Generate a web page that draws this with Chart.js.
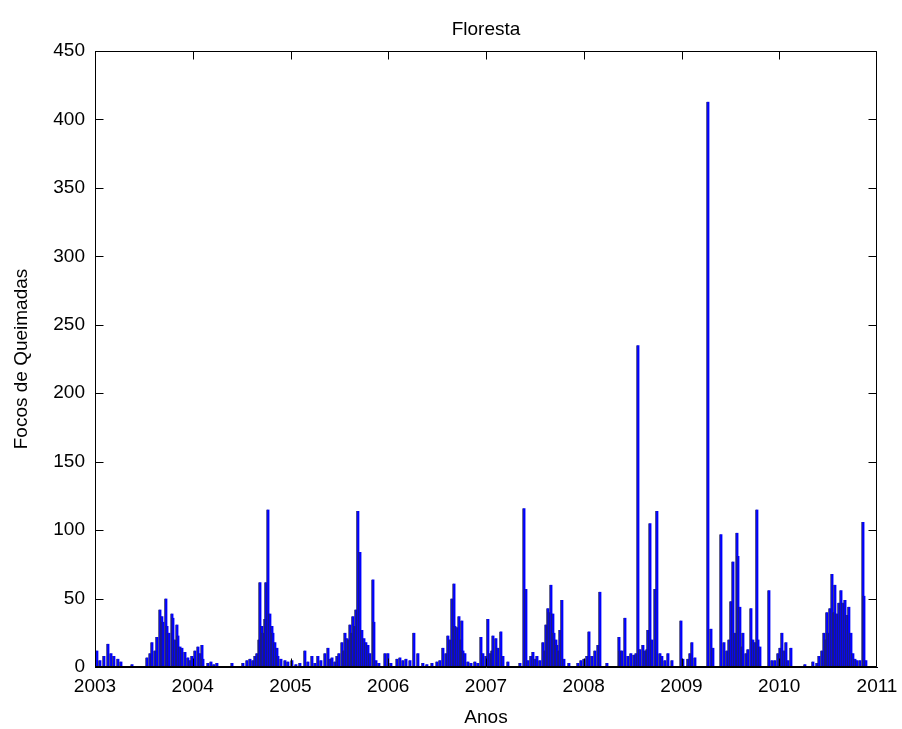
<!DOCTYPE html>
<html lang="pt">
<head>
<meta charset="utf-8">
<title>Floresta</title>
<script src="https://cdn.jsdelivr.net/npm/chart.js@4.4.1/dist/chart.umd.min.js"></script>
<style>
  html,body{margin:0;padding:0;background:#fff;}
  #wrap{width:902px;height:729px;}
</style>
</head>
<body>
<div id="wrap"><canvas id="grafico" width="902" height="729"></canvas></div>
<script>
/* Focos de queimadas em floresta, 2003-2010 (data em ano decimal) */
const anos = [
  2003.020,2003.051,2003.092,2003.133,2003.164,2003.194,2003.235,2003.266,2003.379,
  2003.532,2003.563,2003.583,2003.614,2003.634,2003.665,2003.685,2003.696,2003.726,2003.737,
  2003.757,2003.788,2003.798,2003.818,2003.839,2003.849,2003.870,2003.890,2003.921,2003.951,
  2003.972,2003.992,2004.023,2004.054,2004.074,2004.095,2004.105,2004.156,2004.187,2004.217,
  2004.248,2004.402,
  2004.514,2004.555,2004.586,2004.616,2004.637,2004.657,2004.678,2004.688,2004.708,2004.719,
  2004.739,2004.749,2004.770,2004.790,2004.811,2004.821,2004.841,2004.862,2004.872,2004.903,
  2004.944,2004.974,2005.015,2005.056,
  2005.097,2005.148,2005.179,2005.220,2005.251,2005.281,2005.312,2005.353,2005.384,2005.404,
  2005.425,2005.455,2005.476,2005.496,2005.527,2005.547,2005.558,2005.578,2005.598,2005.609,
  2005.629,2005.639,2005.660,2005.670,2005.690,2005.711,2005.731,2005.752,2005.772,2005.793,
  2005.813,2005.844,2005.854,2005.875,2005.905,2005.967,2005.997,
  2006.028,2006.090,2006.120,2006.151,2006.182,2006.223,2006.263,2006.304,2006.355,2006.396,
  2006.448,2006.499,2006.529,2006.560,2006.591,2006.611,2006.632,2006.652,2006.673,2006.683,
  2006.703,2006.724,2006.744,2006.754,2006.765,2006.785,2006.816,2006.847,2006.887,2006.918,
  2006.949,2006.969,
  2007.000,2007.020,2007.041,2007.061,2007.072,2007.102,2007.123,2007.153,2007.174,2007.225,
  2007.348,2007.389,2007.409,2007.430,2007.460,2007.481,2007.501,2007.522,2007.552,2007.583,
  2007.604,2007.614,2007.634,2007.645,2007.665,2007.685,2007.696,2007.716,2007.726,2007.747,
  2007.757,2007.777,2007.798,2007.849,2007.941,2007.972,
  2008.003,2008.033,2008.054,2008.084,2008.115,2008.146,2008.166,2008.238,2008.361,2008.371,
  2008.391,2008.422,2008.453,2008.483,2008.514,2008.535,2008.555,2008.575,2008.606,2008.627,
  2008.647,2008.657,2008.678,2008.698,2008.729,2008.749,2008.780,2008.800,2008.831,2008.862,
  2008.903,2008.995,
  2009.015,2009.066,2009.087,2009.107,2009.138,2009.271,2009.302,2009.322,2009.404,2009.435,
  2009.465,2009.486,2009.506,2009.527,2009.547,2009.568,2009.578,2009.598,2009.619,2009.629,
  2009.660,2009.680,2009.711,2009.731,2009.752,2009.772,2009.783,2009.803,2009.895,2009.926,
  2009.956,2009.987,
  2010.008,2010.028,2010.049,2010.069,2010.090,2010.120,2010.263,2010.345,2010.386,2010.407,
  2010.437,2010.458,2010.478,2010.488,2010.499,2010.519,2010.540,2010.560,2010.570,2010.591,
  2010.611,2010.632,2010.652,2010.673,2010.693,2010.713,2010.734,2010.754,2010.775,2010.795,
  2010.826,2010.857,2010.867,2010.887
];
const focos = [
  12,5,8,17,10,8,6,4,2,
  7,10,18,12,22,42,37,33,50,30,
  25,39,36,20,31,23,15,14,11,7,
  5,8,12,15,10,16,6,3,4,2,
  3,3,
  3,5,6,5,8,10,20,62,30,25,
  35,62,115,39,30,25,18,14,8,6,
  5,4,5,2,
  3,12,4,8,3,8,5,10,14,6,
  7,4,8,10,18,12,25,21,20,31,
  25,37,30,42,114,84,27,21,18,16,
  10,64,33,5,3,10,10,
  3,6,7,5,6,5,25,10,3,2,
  3,4,5,14,10,23,20,50,61,30,
  29,37,20,34,12,10,4,3,4,3,
  22,10,
  8,35,10,12,23,21,14,26,8,4,
  3,116,57,5,8,11,6,8,5,18,
  12,31,43,40,60,39,25,20,16,12,
  27,49,6,3,3,5,
  6,8,26,8,12,16,55,3,22,12,
  12,36,8,10,9,10,235,13,16,12,
  13,27,105,20,57,114,10,8,5,10,
  5,34,
  6,6,10,18,7,413,28,14,97,18,
  12,20,48,77,25,98,81,44,15,25,
  10,13,43,20,18,115,20,15,56,5,
  5,10,
  14,25,12,18,5,14,2,4,3,8,
  12,25,20,40,25,43,68,40,60,39,
  47,56,47,49,38,44,25,10,6,5,
  5,106,52,5
];
const ticksAnos = [2003,2004,2005,2006,2007,2008,2009,2010,2011];
const ticksFocos = [0,50,100,150,200,250,300,350,400,450];

const FONTE = '"Liberation Sans", Arial, sans-serif';

/* caixa fechada com marcas para dentro, e o titulo */
const moldura = {
  id: 'moldura',
  afterDraw(chart){
    const {ctx, chartArea:a, scales:{x, y}} = chart;
    const L = Math.round(a.left)+0.5, R = Math.round(a.right)-0.5;
    const T = Math.round(a.top)+0.5, B = Math.round(a.bottom)-0.5;
    const prende = (v, lo, hi) => Math.min(hi, Math.max(lo, v));
    ctx.save();
    ctx.strokeStyle = '#000'; ctx.lineWidth = 1;
    ctx.beginPath();
    ctx.rect(L, T, R-L, B-T);
    ticksAnos.forEach(v => {
      const px = prende(Math.round(x.getPixelForValue(v))+0.5, L, R);
      ctx.moveTo(px, B); ctx.lineTo(px, B-8);
      ctx.moveTo(px, T); ctx.lineTo(px, T+8);
    });
    ticksFocos.forEach(v => {
      const py = prende(Math.round(y.getPixelForValue(v))+0.5, T, B);
      ctx.moveTo(L, py); ctx.lineTo(L+8, py);
      ctx.moveTo(R, py); ctx.lineTo(R-8, py);
    });
    ctx.stroke();
    ctx.fillStyle = '#000';
    ctx.font = '19px '+FONTE;
    ctx.textAlign = 'center'; ctx.textBaseline = 'middle';
    ctx.fillText('Floresta', (a.left+a.right)/2, 30);
    ctx.restore();
  }
};

new Chart(document.getElementById('grafico'), {
  type: 'bar',
  data: {
    datasets: [{
      data: anos.map((d, i) => ({x: d, y: focos[i]})),
      backgroundColor: '#0000ff',
      borderColor: '#23235e',
      borderWidth: {left: 1, right: 0, top: 0, bottom: 0},
      borderSkipped: false,
      barThickness: 3
    }]
  },
  options: {
    responsive: false,
    animation: false,
    devicePixelRatio: 1,
    layout: {padding: {top: 51, right: 25, left: 0, bottom: 0}},
    plugins: {legend: {display: false}, tooltip: {enabled: false}},
    scales: {
      x: {
        type: 'linear', min: 2003, max: 2011, offset: false,
        afterBuildTicks: s => { s.ticks = ticksAnos.map(v => ({value: v})); },
        afterFit: s => { s.height = 62; s.paddingLeft = 0; s.paddingRight = 0; },
        grid: {display: false, drawTicks: false, offset: false},
        border: {display: true, color: '#000'},
        ticks: {color: '#000', padding: 8, maxRotation: 0, font: {family: FONTE, size: 19},
                callback: v => String(v)},
        title: {display: true, text: 'Anos', color: '#000', padding: 0,
                font: {family: FONTE, size: 19}}
      },
      y: {
        min: 0, max: 450,
        afterBuildTicks: s => { s.ticks = ticksFocos.map(v => ({value: v})); },
        afterFit: s => { s.width = 95; s.paddingTop = 0; s.paddingBottom = 0; },
        grid: {display: false, drawTicks: false},
        border: {display: true, color: '#000'},
        ticks: {color: '#000', padding: 10, font: {family: FONTE, size: 19}},
        title: {display: true, text: 'Focos de Queimadas', color: '#000', padding: {top: 10},
                font: {family: FONTE, size: 19}}
      }
    }
  },
  plugins: [moldura]
});
</script>
</body>
</html>
